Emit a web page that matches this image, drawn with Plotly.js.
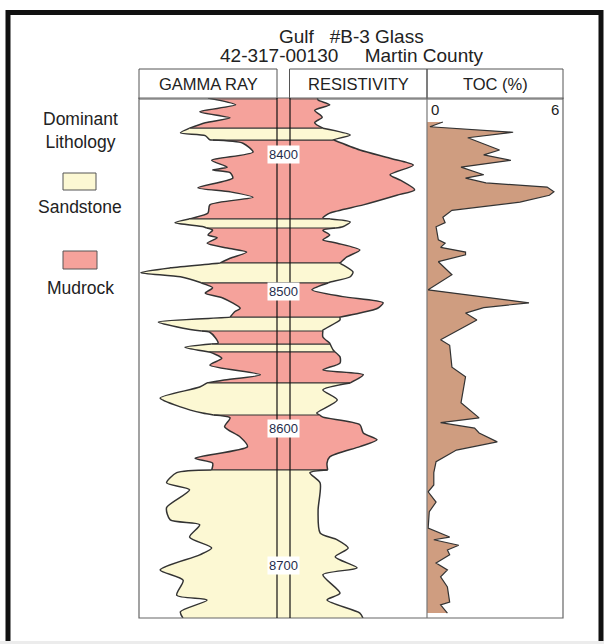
<!DOCTYPE html>
<html><head><meta charset="utf-8">
<script src="https://cdn.plot.ly/plotly-3.0.1.min.js"></script>
<style>html,body{margin:0;padding:0;background:#fff;}#chart{width:604px;height:644px;}</style>
</head><body><div id="chart"></div>
<script>
// ---------------- DATA ----------------
// Gamma ray curve (API, 0-150 across track)
const grDepth = [8359, 8364, 8369, 8373.5, 8377, 8381, 8384.5, 8386.5, 8389.5, 8392, 8398.5, 8404.5, 8409.5, 8411.5, 8413.5, 8417.5, 8424.5, 8427.5, 8431.5, 8437, 8443, 8446.5, 8450, 8453, 8455.5, 8459, 8461, 8465, 8468.5, 8471.5, 8476, 8479.5, 8483, 8486.5, 8489.5, 8493.5, 8497.5, 8501.5, 8505, 8512.5, 8515, 8519, 8522.5, 8527, 8530, 8534, 8538, 8541, 8544.5, 8549, 8554, 8561, 8565, 8567, 8570, 8578, 8584.5, 8589, 8592.5, 8599, 8606.5, 8613.5, 8622, 8625.5, 8630.5, 8632.5, 8640, 8645, 8658, 8667, 8670.5, 8679.5, 8687.5, 8692.5, 8703.5, 8711, 8722, 8725.5, 8734, 8739];
const grAPI   = [75, 105, 66, 99, 72, 55, 45, 72, 77, 113, 124, 79, 96, 80, 99, 102, 64, 99, 124, 77, 75, 59, 39, 70, 80, 75, 85, 74, 96, 117, 99, 88, 34, 2, 45, 66, 80, 72, 91, 110, 104, 99, 21, 48, 77, 83, 86, 50, 77, 90, 77, 132, 91, 74, 66, 23, 45, 69, 99, 93, 110, 118, 61, 80, 79, 41, 30, 55, 30, 34, 66, 55, 79, 66, 23, 48, 41, 74, 45, 48];

// Resistivity curve (ohm-m, 0-20 across track)
const resDepth = [8359, 8360.5, 8364, 8368, 8373, 8377, 8381, 8386, 8389.5, 8397, 8403, 8408, 8415, 8419, 8426, 8430, 8437, 8443, 8446.5, 8449.5, 8453, 8455.5, 8459, 8462.5, 8465, 8470, 8475, 8479.5, 8486, 8489.5, 8493.5, 8499, 8504, 8508.5, 8512.5, 8516, 8519, 8521, 8528.5, 8533.5, 8538, 8543, 8548, 8552.5, 8557.5, 8561, 8567, 8572, 8579.5, 8589, 8592, 8597.5, 8603.5, 8608.5, 8613.5, 8621, 8625.5, 8630.5, 8632.5, 8640, 8660, 8676.5, 8681.5, 8687.5, 8694, 8702, 8707, 8720.5, 8725.5, 8735, 8739];
const resOhm   = [4.0, 4.1, 5.8, 3.6, 4.7, 3.6, 4.8, 8.8, 6.3, 10.2, 14.6, 18.0, 14.6, 16.1, 18.2, 15.6, 10.7, 5.8, 4.8, 8.8, 7.7, 4.8, 5.8, 4.8, 6.9, 10.2, 8.3, 7.3, 9.2, 8.8, 5.8, 3.2, 7.7, 13.6, 12.8, 10.2, 7.3, 7.3, 4.8, 4.8, 5.8, 6.3, 7.3, 7.3, 4.8, 10.7, 8.8, 4.8, 6.9, 3.9, 4.8, 10.2, 10.7, 12.7, 10.2, 5.8, 5.4, 5.5, 2.9, 4.4, 4.1, 4.4, 6.9, 8.5, 6.6, 9.8, 4.8, 7.3, 5.4, 10.2, 10.7];

// TOC (%)
const tocDepth = [8376.5, 8380, 8384, 8388, 8397, 8400.5, 8404.5, 8409.5, 8415, 8417.5, 8421, 8424, 8427.5, 8430, 8435, 8441, 8446, 8450, 8453, 8462.5, 8465, 8468, 8471.5, 8473.5, 8478.5, 8488, 8499, 8508.5, 8512, 8516, 8521, 8535.5, 8539.5, 8555.5, 8562.5, 8581.5, 8592.5, 8596, 8600, 8603.5, 8610, 8616, 8624.5, 8632.5, 8641.5, 8646.5, 8654, 8661, 8673, 8679.5, 8681.5, 8685.5, 8689, 8692.5, 8698.5, 8703.5, 8708.5, 8716, 8727, 8729, 8735];
const tocPct   = [0.7, 0.13, 3.8, 1.8, 3.2, 2.5, 3.7, 1.5, 2.5, 1.7, 2.6, 5.3, 5.6, 5.4, 4.1, 1.1, 0.7, 0.8, 0.4, 0.5, 0.8, 0.6, 1.7, 1.7, 0.5, 1.1, 0.05, 4.5, 2.5, 1.7, 2.2, 0.6, 1.0, 1.1, 1.7, 1.5, 2.3, 0.6, 2.1, 2.3, 3.1, 1.3, 0.4, 0.3, 0.3, 0.05, 0.4, 0.1, 0.05, 1.0, 0.3, 1.4, 0.9, 1.0, 0.4, 0.9, 0.6, 0.9, 1.0, 0.6, 0.9];

// Dominant lithology intervals
const lithTop  = [8359, 8381, 8389.7, 8447.3, 8453.9, 8479.4, 8494.0, 8518.9, 8529.1, 8538.6, 8544.4, 8567.0, 8590.4, 8630.5];
const lithBase = [8381, 8389.7, 8447.3, 8453.9, 8479.4, 8494.0, 8518.9, 8529.1, 8538.6, 8544.4, 8567.0, 8590.4, 8630.5, 8738.6];
const lithType = ['Mudrock','Sandstone','Mudrock','Sandstone','Mudrock','Sandstone','Mudrock','Sandstone','Mudrock','Sandstone','Mudrock','Sandstone','Mudrock','Sandstone'];

const depthTicks = [8400, 8500, 8600, 8700];
const tocScale = [0, 6];
const titleLines = ['Gulf\u00A0\u00A0\u00A0#B-3 Glass', '42-317-00130\u00A0\u00A0\u00A0\u00A0\u00A0Martin County'];
const trackNames = ['GAMMA RAY', 'RESISTIVITY', 'TOC (%)'];
const legendTitle = 'Dominant<br>Lithology';

// ---------------- STYLE / LAYOUT ----------------
const W = 604, H = 644;
const P = px => px / W;
const Q = py => 1 - py / H;
const FONT = 'Liberation Sans, Arial, Helvetica, sans-serif';
const lithColor = {Sandstone: '#FCF8D3', Mudrock: '#F5A29B'};
const GR_MAX = 150, RES_MAX = 20;
const GR_W = 138, GAP_W = 13, RES_W = 137; // track widths (px)
const grX = g => g / GR_MAX;
const resX = r => (GR_W + GAP_W) / GR_W + (r / RES_MAX) * (RES_W / GR_W);
const XMAX = (GR_W + GAP_W + RES_W) / GR_W;
const TOP = 98, BOT = 618, LEFT = 139, MID = 427, RIGHT = 563;
const CURVE = {color: '#333', width: 1.5, shape: 'spline', smoothing: 0.7};

function interp(ds, vs, d) {
  if (d <= ds[0]) return vs[0];
  for (let i = 0; i < ds.length - 1; i++) {
    if (d >= ds[i] && d <= ds[i + 1]) {
      const t = (d - ds[i]) / (ds[i + 1] - ds[i]);
      return vs[i] + t * (vs[i + 1] - vs[i]);
    }
  }
  return vs[vs.length - 1];
}
function segment(ds, vs, a, b, fx) {
  const x = [fx(interp(ds, vs, a))], y = [a];
  ds.forEach((d, i) => { if (d > a && d < b) { x.push(fx(vs[i])); y.push(d); } });
  x.push(fx(interp(ds, vs, b))); y.push(b);
  return {x, y};
}

const traces = [];
// Lithology-coloured fills between GR (left) and resistivity (right) curves
for (let k = 0; k < lithTop.length; k++) {
  const a = lithTop[k], b = lithBase[k];
  const g = segment(grDepth, grAPI, a, b, grX);
  const r = segment(resDepth, resOhm, a, b, resX);
  traces.push({type: 'scatter', mode: 'lines', x: g.x, y: g.y, line: CURVE, hoverinfo: 'skip'});
  traces.push({type: 'scatter', mode: 'lines', x: r.x, y: r.y, line: CURVE,
    fill: 'tonextx', fillcolor: lithColor[lithType[k]], hoverinfo: 'skip'});
}
// lithology boundary lines
const bx = [], by = [];
for (let k = 1; k < lithTop.length; k++) {
  const d = lithTop[k];
  bx.push(grX(interp(grDepth, grAPI, d)), resX(interp(resDepth, resOhm, d)), null);
  by.push(d, d, null);
}
traces.push({type: 'scatter', mode: 'lines', x: bx, y: by, line: {color: '#333', width: 1.2}, hoverinfo: 'skip'});
// TOC
traces.push({type: 'scatter', mode: 'lines', xaxis: 'x2', yaxis: 'y', x: tocPct, y: tocDepth,
  fill: 'tozerox', fillcolor: '#CF9D80', line: {color: '#333', width: 1.2}, hoverinfo: 'skip'});

const shapes = [
  // outer frame
  {type: 'rect', xref: 'paper', yref: 'paper', x0: P(8), x1: P(601), y0: Q(700), y1: Q(12.5), line: {color: '#111', width: 5}},
  {type: 'rect', xref: 'paper', yref: 'paper', x0: 0, x1: 1, y0: 0, y1: Q(641), fillcolor: '#ececec', line: {width: 0}},
  // header boxes
  {type: 'rect', xref: 'paper', yref: 'paper', x0: P(LEFT), x1: P(277), y0: Q(99), y1: Q(69), line: {color: '#555', width: 1}},
  {type: 'rect', xref: 'paper', yref: 'paper', x0: P(289.5), x1: P(MID), y0: Q(99), y1: Q(69), line: {color: '#555', width: 1}},
  {type: 'rect', xref: 'paper', yref: 'paper', x0: P(MID), x1: P(RIGHT), y0: Q(99), y1: Q(69), line: {color: '#555', width: 1}},
  // track frame
  {type: 'rect', xref: 'paper', yref: 'paper', x0: P(LEFT), x1: P(RIGHT), y0: Q(BOT), y1: Q(TOP), line: {color: '#666', width: 1.2}},
  {type: 'line', xref: 'paper', yref: 'paper', x0: P(MID), x1: P(MID), y0: Q(BOT), y1: Q(TOP), line: {color: '#777', width: 1.2}},
  // GR / resistivity track edges
  {type: 'line', xref: 'x', yref: 'paper', x0: 1, x1: 1, y0: Q(BOT), y1: Q(TOP), line: {color: '#111', width: 1.2}},
  {type: 'line', xref: 'x', yref: 'paper', x0: (GR_W + GAP_W) / GR_W, x1: (GR_W + GAP_W) / GR_W, y0: Q(BOT), y1: Q(TOP), line: {color: '#111', width: 1.2}},
  // legend swatches
  {type: 'rect', xref: 'paper', yref: 'paper', x0: P(63), x1: P(96), y0: Q(190), y1: Q(173), fillcolor: lithColor.Sandstone, line: {color: '#555', width: 1}},
  {type: 'rect', xref: 'paper', yref: 'paper', x0: P(63), x1: P(97), y0: Q(269), y1: Q(251), fillcolor: lithColor.Mudrock, line: {color: '#555', width: 1}}
];

const txt = (text, x, y, size, extra) => Object.assign({
  text: text, xref: 'paper', yref: 'paper', x: P(x), y: Q(y), xanchor: 'center', yanchor: 'middle',
  showarrow: false, font: {family: FONT, size: size, color: '#222'}
}, extra || {});

const annotations = [
  txt(titleLines[0], 351, 36.5, 19),
  txt(titleLines[1], 351, 55.5, 19),
  txt(trackNames[0], 208, 84, 16.5),
  txt(trackNames[1], 358.5, 84, 16.5),
  txt(trackNames[2], 495, 84, 16.5),
  txt(legendTitle, 80, 130.5, 17.5),
  txt('Sandstone', 80, 207, 17.5),
  txt('Mudrock', 80, 288, 17.5),
  {text: String(tocScale[0]), xref: 'x2', yref: 'paper', x: tocScale[0], y: Q(110), xanchor: 'left', yanchor: 'middle', xshift: 2,
   showarrow: false, font: {family: FONT, size: 15, color: '#222'}},
  {text: String(tocScale[1]), xref: 'x2', yref: 'paper', x: tocScale[1], y: Q(110), xanchor: 'right', yanchor: 'middle', xshift: -2,
   showarrow: false, font: {family: FONT, size: 15, color: '#222'}}
];
depthTicks.forEach(d => annotations.push({
  text: String(d), xref: 'x', yref: 'y', x: (1 + (GR_W + GAP_W) / GR_W) / 2, y: d,
  xanchor: 'center', yanchor: 'middle', showarrow: false, bgcolor: '#fff', borderpad: 1,
  font: {family: FONT, size: 13, color: '#1f2d4a'}
}));

const layout = {
  width: W, height: H, margin: {l: 0, r: 0, t: 0, b: 0},
  paper_bgcolor: '#fff', plot_bgcolor: 'rgba(0,0,0,0)', showlegend: false,
  xaxis: {domain: [P(LEFT), P(MID)], range: [0, XMAX], visible: false, fixedrange: true},
  xaxis2: {domain: [P(MID), P(RIGHT)], range: tocScale, visible: false, anchor: 'y', fixedrange: true},
  yaxis: {domain: [Q(BOT), Q(TOP)], range: [8738.6, 8359], visible: false, fixedrange: true},
  shapes: shapes, annotations: annotations
};

Plotly.newPlot('chart', traces, layout, {staticPlot: true, displayModeBar: false});
</script>
</body></html>
